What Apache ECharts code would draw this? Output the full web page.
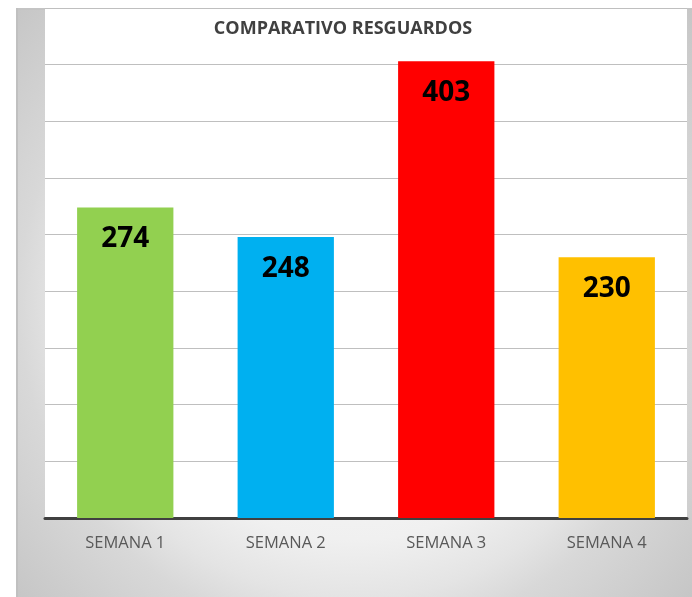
<!DOCTYPE html>
<html>
<head>
<meta charset="utf-8">
<script src="https://cdn.jsdelivr.net/npm/echarts@6/dist/echarts.min.js"></script>
<style>
html,body{margin:0;padding:0;background:#fff;}
#chart{width:692px;height:597px;}
</style>
</head>
<body>
<div id="chart"></div>
<script>
var categories = ['SEMANA 1', 'SEMANA 2', 'SEMANA 3', 'SEMANA 4'];
var values = [274, 248, 403, 230];
var barColors = ['#92d050', '#00b0f0', '#ff0000', '#ffc000'];
var titleText = 'COMPARATIVO RESGUARDOS';

var chart = echarts.init(document.getElementById('chart'), null, {renderer: 'canvas'});
var option = {
  animation: false,
  backgroundColor: '#ffffff',
  title: {
    text: titleText,
    left: 338,
    top: 15,
    textAlign: 'center',
    textStyle: {fontFamily: 'Open Sans', fontWeight: 'bold', fontSize: 18, color: '#404040'}
  },
  graphic: [
    {
      type: 'rect', z: -100, silent: true,
      shape: {x: 16, y: 8, width: 676, height: 589},
      style: {
        fill: {
          type: 'radial', x: 0.5, y: 0.5, r: 0.76,
          colorStops: [
            {offset: 0, color: '#ffffff'},
            {offset: 0.53, color: '#f0f0f0'},
            {offset: 0.66, color: '#e4e4e4'},
            {offset: 0.75, color: '#d8d8d8'},
            {offset: 1, color: '#c6c6c6'}
          ]
        }
      }
    },
    {
      type: 'rect', z: -99, silent: true,
      shape: {x: 16, y: 8, width: 676, height: 2},
      style: {fill: '#c4c4c4'}
    },
    {
      type: 'rect', z: -99, silent: true,
      shape: {x: 16, y: 8, width: 2, height: 589},
      style: {fill: '#c0c0c0'}
    }
  ],
  grid: {
    left: 45, right: 5, top: 8, bottom: 79,
    show: true, backgroundColor: '#ffffff', borderWidth: 0
  },
  xAxis: {
    type: 'category',
    data: categories,
    axisLine: {lineStyle: {color: '#404040', width: 3}},
    axisTick: {show: false},
    axisLabel: {color: '#595959', fontSize: 16.5, fontFamily: 'Open Sans', margin: 17}
  },
  yAxis: {
    type: 'value',
    min: 0, max: 450, interval: 50,
    axisLine: {show: false},
    axisTick: {show: false},
    axisLabel: {show: false},
    splitLine: {lineStyle: {color: '#bfbfbf', width: 1}}
  },
  series: [{
    type: 'bar',
    barWidth: '60%',
    data: values.map(function (v, i) {
      return {value: v, itemStyle: {color: barColors[i]}};
    }),
    label: {
      show: true,
      position: 'insideTop',
      distance: 18,
      color: '#000000',
      fontFamily: 'Open Sans',
      fontWeight: 'bold',
      fontSize: 28
    }
  }]
};
chart.setOption(option);
</script>
</body>
</html>
